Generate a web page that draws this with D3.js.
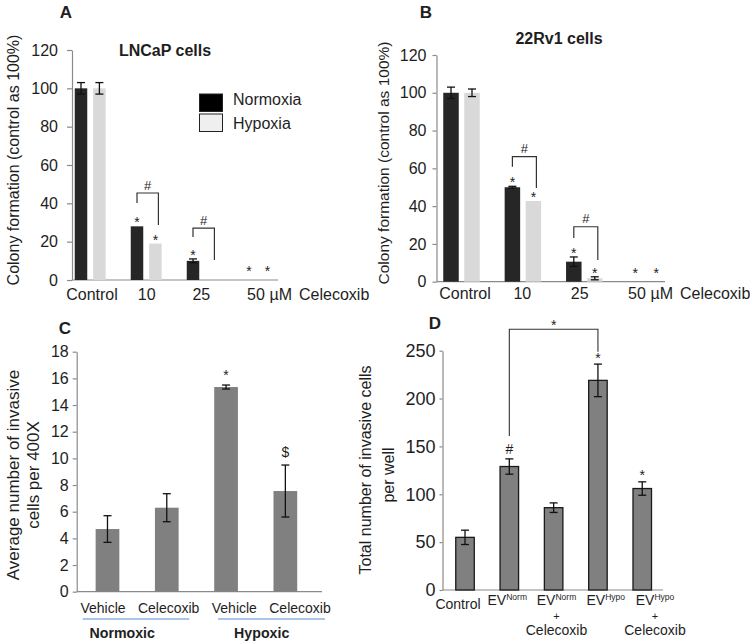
<!DOCTYPE html>
<html><head><meta charset="utf-8">
<script src="https://cdn.jsdelivr.net/npm/d3@7"></script>
<style>
body{margin:0;background:#fff}
svg{display:block}
text{font-family:"Liberation Sans",Arial,Helvetica,sans-serif;fill:#1e1e1e}
</style>
</head><body>
<svg id="c" width="750" height="641"></svg>
<script>
// ---------- data ----------
const doseCats = ["Control", "10", "25", "50"];
const seriesNames = ["Normoxia", "Hypoxia"];
const colonyTicks = [0, 20, 40, 60, 80, 100, 120];

const lncapNorm = [100, 28, 10, 0];
const lncapNormErr = [3, 0, 1, 0];
const lncapHyp = [100, 19, 0, 0];
const lncapHypErr = [3, 0, 0, 0];

const rv1Norm = [100, 50, 10.6, 0];
const rv1NormErr = [3, 0.5, 2.5, 0];
const rv1Hyp = [100, 42.7, 1.8, 0];
const rv1HypErr = [2, 0, 0.8, 0];

// significance: which bars carry a star
const lncapStarsNorm = [false, true, true, true];
const lncapStarsHyp = [false, true, false, true];
const rv1StarsNorm = [false, true, true, true];
const rv1StarsHyp = [false, true, true, true];
// "#" brackets: [category, top value, left end value, right end value]
const lncapBrackets = [["10", 45.4, 40.2, 28.7], ["25", 27.1, 22.4, 10.4]];
const rv1Brackets = [["10", 66.2, 60.9, 49.6], ["25", 29.1, 23.1, 11.5]];

const invKeys = ["normVeh", "normCel", "hypVeh", "hypCel"];
const invLabels = ["Vehicle", "Celecoxib", "Vehicle", "Celecoxib"];
const invValues = [4.7, 6.3, 15.35, 7.55];
const invErr = [1.0, 1.05, 0.15, 1.95];
const invMarks = ["", "", "*", "$"];
const invTicks = [0, 2, 4, 6, 8, 10, 12, 14, 16, 18];
const invGroups = ["Normoxic", "Hypoxic"];

const evKeys = ["control", "evNorm", "evNormCel", "evHypo", "evHypoCel"];
const evMain = ["Control", "EV", "EV", "EV", "EV"];
const evSup = ["", "Norm", "Norm", "Hypo", "Hypo"];
const evSecond = [false, false, true, false, true];
const evValues = [55, 129, 86, 219, 106];
const evErr = [7.5, 8, 5, 17, 7];
const evMarks = ["", "#", "", "*", "*"];
const evTicks = [0, 50, 100, 150, 200, 250];
const evBracket = ["evNorm", "evHypo", 272.4, 160.9, 249];

// ---------- helpers ----------
const svg = d3.select("#c");
const FONT = '"Liberation Sans",Arial,Helvetica,sans-serif';
const AXC = "#8a8a8a", INK = "#1e1e1e";
const NORM = "#262626", HYP = "#d9d9d9", GRAY = "#808080";

function yAxis(x, y, ticks, size, pad, fs) {
  const g = svg.append("g").attr("transform", `translate(${x},0)`)
    .call(d3.axisLeft(y).tickValues(ticks).tickSize(size).tickPadding(pad).tickSizeOuter(0));
  g.attr("font-family", FONT).attr("font-size", fs);
  g.select(".domain").attr("stroke", AXC).attr("stroke-width", 1.2);
  g.selectAll(".tick line").attr("stroke", AXC).attr("stroke-width", 1.2);
  g.selectAll(".tick text").attr("fill", INK);
  return g;
}
function hline(x1, x2, y, color, w) {
  svg.append("line").attr("x1", x1).attr("x2", x2).attr("y1", y).attr("y2", y)
    .attr("stroke", color || AXC).attr("stroke-width", w || 1.2);
}
function errBar(cx, y, v, e) {
  if (!(e > 0)) return;
  const g = svg.append("g").attr("stroke", "#111").attr("stroke-width", 1.3);
  g.append("line").attr("x1", cx).attr("x2", cx).attr("y1", y(v + e)).attr("y2", y(Math.max(0, v - e)));
  g.append("line").attr("x1", cx - 4).attr("x2", cx + 4).attr("y1", y(v + e)).attr("y2", y(v + e));
  g.append("line").attr("x1", cx - 4).attr("x2", cx + 4).attr("y1", y(Math.max(0, v - e))).attr("y2", y(Math.max(0, v - e)));
}
function mark(cx, cyCenter, s, fs) {
  const off = s === "*" ? 0.57 : (s === "#" ? 0.36 : 0.38);
  svg.append("text").attr("x", cx).attr("y", cyCenter + off * fs)
    .attr("text-anchor", "middle").attr("font-size", fs).text(s);
}
function label(x, y, s, fs, opts) {
  const t = svg.append("text").attr("x", x).attr("y", y).attr("font-size", fs)
    .attr("text-anchor", (opts && opts.anchor) || "middle").text(s);
  if (opts && opts.bold) t.attr("font-weight", "bold");
  return t;
}
function vlabel(x, y, s, fs) {
  svg.append("text").attr("transform", `translate(${x},${y}) rotate(-90)`)
    .attr("text-anchor", "middle").attr("dominant-baseline", "central")
    .attr("font-size", fs).text(s);
}

// ---------- colony panels (A, B) ----------
function colonyPanel(p) {
  const y = d3.scaleLinear().domain([0, 120]).range(p.yRange);
  const x = d3.scaleBand().domain(doseCats).range(p.xRange);
  const s = d3.scaleBand().domain(seriesNames).range(p.sRange).paddingInner(p.sPad);
  const lx = d3.scalePoint().domain(doseCats).range(p.labelRange);
  const cx = (c, ser) => x(c) + x.bandwidth() / 2 + s(ser) + s.bandwidth() / 2;

  yAxis(p.axisX, y, colonyTicks, p.tickSize, p.tickPad, 16);
  hline(p.axisX, p.axisEnd, y(0));

  const series = [
    { name: "Normoxia", vals: p.norm, errs: p.normErr, stars: p.starsN, color: NORM },
    { name: "Hypoxia", vals: p.hyp, errs: p.hypErr, stars: p.starsH, color: HYP }
  ];
  series.forEach(ser => {
    svg.append("g").selectAll("rect").data(doseCats).join("rect")
      .attr("x", c => cx(c, ser.name) - s.bandwidth() / 2)
      .attr("width", s.bandwidth())
      .attr("y", (c, i) => y(ser.vals[i]))
      .attr("height", (c, i) => y(0) - y(ser.vals[i]))
      .attr("fill", ser.color);
    doseCats.forEach((c, i) => {
      errBar(cx(c, ser.name), y, ser.vals[i], ser.errs[i]);
      if (ser.stars[i]) {
        const top = ser.vals[i] + ser.errs[i];
        const cy = top > 0 ? y(top) - 7 : y(0) - 12;
        mark(cx(c, ser.name), cy, "*", 14);
      }
    });
  });

  p.brackets.forEach(b => {
    const xl = cx(b[0], "Normoxia"), xr = cx(b[0], "Hypoxia") + 3;
    svg.append("path")
      .attr("d", `M${xl},${y(b[2])}V${y(b[1])}H${xr}V${y(b[3])}`)
      .attr("fill", "none").attr("stroke", "#333").attr("stroke-width", 1.2);
    mark((xl + xr) / 2, y(b[1]) - 8, "#", 13);
  });

  doseCats.forEach(c => {
    const t = label(lx(c), p.labelY, c, 16);
    if (c === "50") {
      const bb = t.node().getBBox();
      const m = label(bb.x + bb.width + 4.5, p.labelY, "µM", 16, { anchor: "start" });
      const bb2 = m.node().getBBox();
      label(bb2.x + bb2.width + 7, p.labelY, "Celecoxib", 16, { anchor: "start" });
    }
  });

  label(p.title[0], p.title[1], p.title[2], 16, { bold: true });
  label(p.letter[0], p.letter[1], p.letter[2], 17, { bold: true });
  vlabel(p.ylab[0], p.ylab[1], "Colony formation (control as 100%)", p.ylabSize);
}

colonyPanel({
  yRange: [280, 50], xRange: [62.2, 286.2], sRange: [-15.45, 15.45], sPad: 0.321,
  labelRange: [92, 256], axisX: 72, axisEnd: 278, tickSize: 5, tickPad: 9, labelY: 300,
  norm: lncapNorm, normErr: lncapNormErr, hyp: lncapHyp, hypErr: lncapHypErr,
  starsN: lncapStarsNorm, starsH: lncapStarsHyp, brackets: lncapBrackets,
  title: [165, 55.5, "LNCaP cells"], letter: [66, 18, "A"], ylab: [13, 160], ylabSize: 16
});
colonyPanel({
  yRange: [281.7, 55], xRange: [430.8, 676.4], sRange: [-18.25, 18.25], sPad: 0.262,
  labelRange: [465, 637], axisX: 436.5, axisEnd: 665, tickSize: 4, tickPad: 6, labelY: 299,
  norm: rv1Norm, normErr: rv1NormErr, hyp: rv1Hyp, hypErr: rv1HypErr,
  starsN: rv1StarsNorm, starsH: rv1StarsHyp, brackets: rv1Brackets,
  title: [559, 43.5, "22Rv1 cells"], letter: [426, 18, "B"], ylab: [383, 163], ylabSize: 15.5
});

// legend (panel A)
const legend = svg.append("g");
seriesNames.forEach((n, i) => {
  legend.append("rect").attr("x", 199.5).attr("y", 94 + i * 20).attr("width", 23).attr("height", 17.5)
    .attr("fill", i === 0 ? "#000" : "#efefef").attr("stroke", "#222").attr("stroke-width", 1);
  legend.append("text").attr("x", 233).attr("y", 105 + i * 23.5).attr("font-size", 16).text(n);
});

// ---------- panel C ----------
(function () {
  const y = d3.scaleLinear().domain([0, 18]).range([591.7, 351.7]);
  const x = d3.scaleBand().domain(invKeys).range([77.84, 315]).paddingInner(0.6).paddingOuter(0.3);
  const lx = d3.scalePoint().domain(invKeys).range([103, 300]);
  yAxis(76.7, y, invTicks, 4, 4, 16);
  hline(76.7, 322, y(0));
  svg.append("g").selectAll("rect").data(invKeys).join("rect")
    .attr("x", k => x(k)).attr("width", x.bandwidth())
    .attr("y", (k, i) => y(invValues[i])).attr("height", (k, i) => y(0) - y(invValues[i]))
    .attr("fill", GRAY);
  invKeys.forEach((k, i) => {
    const cx = x(k) + x.bandwidth() / 2;
    errBar(cx, y, invValues[i], invErr[i]);
    if (invMarks[i]) mark(cx, y(invValues[i] + invErr[i]) - 13, invMarks[i], 14);
    label(lx(k), 613, invLabels[i], 14);
  });
  const gx = [[82.7, 189.3], [218, 325]];
  invGroups.forEach((g, i) => {
    hline(gx[i][0], gx[i][1], 619, "#8db3e2", 1.3);
  });
  label(122.2, 638, invGroups[0], 14.2, { bold: true });
  label(261.7, 638, invGroups[1], 14.2, { bold: true });
  label(65, 334, "C", 17, { bold: true });
  vlabel(13, 475, "Average number of invasive", 17);
  vlabel(33, 475, "cells per 400X", 17);
})();

// ---------- panel D ----------
(function () {
  const y = d3.scaleLinear().domain([0, 250]).range([590, 350.7]);
  const x = d3.scaleBand().domain(evKeys).range([442.46, 664.8]).paddingInner(0.582).paddingOuter(0.3);
  const lx = d3.scalePoint().domain(evKeys).range([458, 655]);
  const cx = k => x(k) + x.bandwidth() / 2;
  yAxis(442.5, y, evTicks, 3, 4, 18);
  hline(442.5, 663, y(0));
  svg.append("g").selectAll("rect").data(evKeys).join("rect")
    .attr("x", k => x(k)).attr("width", x.bandwidth())
    .attr("y", (k, i) => y(evValues[i])).attr("height", (k, i) => y(0) - y(evValues[i]))
    .attr("fill", GRAY).attr("stroke", "#1a1a1a").attr("stroke-width", 1.3);
  evKeys.forEach((k, i) => {
    errBar(cx(k), y, evValues[i], evErr[i]);
    if (evMarks[i]) mark(cx(k), y(evValues[i] + evErr[i]) - 9.5, evMarks[i], 14);
    const t = svg.append("text").attr("x", lx(k)).attr("y", evSup[i] ? 605 : 609).attr("font-size", 14)
      .attr("text-anchor", "middle");
    t.append("tspan").text(evMain[i]);
    if (evSup[i]) t.append("tspan").attr("font-size", 8.5).attr("dy", -5).text(evSup[i]);
    if (evSecond[i]) {
      label(lx(k), 619.5, "+", 11);
      label(lx(k), 635, "Celecoxib", 14);
    }
  });
  const xl = cx(evBracket[0]), xr = cx(evBracket[1]);
  svg.append("path")
    .attr("d", `M${xl},${y(evBracket[3])}V${y(evBracket[2])}H${xr}V${y(evBracket[4])}`)
    .attr("fill", "none").attr("stroke", "#333").attr("stroke-width", 1.1);
  mark((xl + xr) / 2, y(evBracket[2]) - 7.5, "*", 14);
  label(435, 328.5, "D", 17, { bold: true });
  vlabel(365, 470, "Total number of invasive cells", 16);
  vlabel(388, 475, "per well", 16);
})();
</script>
</body></html>
